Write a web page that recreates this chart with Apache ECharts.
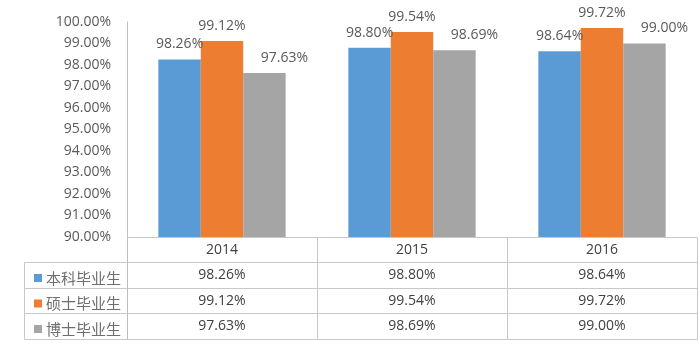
<!DOCTYPE html>
<html>
<head>
<meta charset="utf-8">
<script src="https://cdn.jsdelivr.net/npm/echarts@6/dist/echarts.min.js"></script>
<style>
  html, body { margin: 0; padding: 0; background: #ffffff; }
  #chart { width: 700px; height: 350px; }
</style>
</head>
<body>
<div id="chart"></div>
<script>
// Graduate employment rates by degree level, 2014–2016 (percent)
const years = ['2014', '2015', '2016'];
const seriesNames = ['本科毕业生', '硕士毕业生', '博士毕业生'];
const bachelor = [98.26, 98.80, 98.64];
const master = [99.12, 99.54, 99.72];
const doctor = [97.63, 98.69, 99.00];
const yMin = 90;
const yMax = 100;
const yStep = 1;

const seriesValues = [bachelor, master, doctor];
const colors = ['#5b9bd5', '#ed7d31', '#a5a5a5'];
const pct = v => v.toFixed(2) + '%';

const NUM_FONT = "'Open Sans', 'Liberation Sans', sans-serif";
const CJK_FONT = "'Noto Sans CJK SC', sans-serif";
const HEADER_H = 25;
const ROW_H = 25.5;
const LINE_COLOR = '#c8c8c8';

const chart = echarts.init(document.getElementById('chart'), null, { renderer: 'canvas' });

const series = seriesNames.map((name, i) => ({
  name,
  type: 'bar',
  data: seriesValues[i],
  itemStyle: { color: colors[i] },
  barGap: '0%',
  barCategoryGap: '33%',
  label: {
    show: true,
    position: 'top',
    distance: 8,
    offset: i === 2 ? [20, 0] : [0, 0],
    formatter: p => pct(p.value),
    color: '#595959',
    fontSize: 14,
    fontFamily: NUM_FONT
  }
}));

chart.setOption({
  animation: false,
  backgroundColor: '#ffffff',
  color: colors,
  grid: { left: 127, right: 3, top: 22, bottom: 113 },
  legend: {
    orient: 'vertical',
    left: 29,
    top: 265,
    icon: 'rect',
    itemWidth: 8,
    itemHeight: 8,
    itemGap: 9.5,
    selectedMode: false,
    textStyle: {
      fontSize: 15,
      lineHeight: 16,
      color: '#6e6e6e',
      fontFamily: CJK_FONT,
      padding: [0, 0, 0, -1]
    },
    data: seriesNames
  },
  xAxis: {
    type: 'category',
    data: years,
    axisLine: { show: true, lineStyle: { color: LINE_COLOR, width: 1 } },
    axisTick: { show: false },
    axisLabel: {
      margin: 0,
      interval: 0,
      lineHeight: ROW_H,
      color: '#404040',
      fontSize: 14,
      fontFamily: NUM_FONT,
      formatter: (value, idx) =>
        [value].concat(seriesValues.map(s => pct(s[idx]))).join('\n')
    }
  },
  yAxis: {
    type: 'value',
    min: yMin,
    max: yMax,
    interval: yStep,
    axisLine: { show: true, lineStyle: { color: '#bfbfbf', width: 1 } },
    axisTick: { show: false },
    splitLine: { show: false },
    axisLabel: {
      margin: 16,
      color: '#595959',
      fontSize: 14,
      fontFamily: NUM_FONT,
      formatter: v => v.toFixed(2) + '%'
    }
  },
  series
});

// Data table grid lines under the category axis
function drawTable() {
  const centers = years.map((_, i) => chart.convertToPixel({ xAxisIndex: 0 }, i));
  const band = centers.length > 1 ? centers[1] - centers[0] : 190;
  const xLeft = centers[0] - band / 2;
  const xRight = centers[centers.length - 1] + band / 2;
  const yTop = chart.convertToPixel({ yAxisIndex: 0 }, yMax);
  const yAxisBottom = chart.convertToPixel({ yAxisIndex: 0 }, yMin);
  const legendLeft = 23.5;
  const rowTops = [yAxisBottom + HEADER_H];
  for (let r = 0; r < seriesNames.length; r++) rowTops.push(rowTops[r] + ROW_H);
  const yBottom = rowTops[rowTops.length - 1];

  const lines = [];
  const line = (x1, y1, x2, y2, color) => lines.push({
    type: 'line',
    silent: true,
    shape: { x1: Math.round(x1) + 0.5, y1: Math.round(y1) + 0.5, x2: Math.round(x2) + 0.5, y2: Math.round(y2) + 0.5 },
    style: { stroke: color || LINE_COLOR, lineWidth: 1 }
  });

  rowTops.forEach(y => line(legendLeft, y, xRight, y));
  line(legendLeft, rowTops[0], legendLeft, yBottom);
  line(xLeft, yTop, xLeft, yBottom, '#bfbfbf');
  for (let i = 1; i <= years.length; i++) {
    line(xLeft + band * i, yAxisBottom, xLeft + band * i, yBottom);
  }
  chart.setOption({ graphic: { elements: lines } });
}
drawTable();
</script>
</body>
</html>
